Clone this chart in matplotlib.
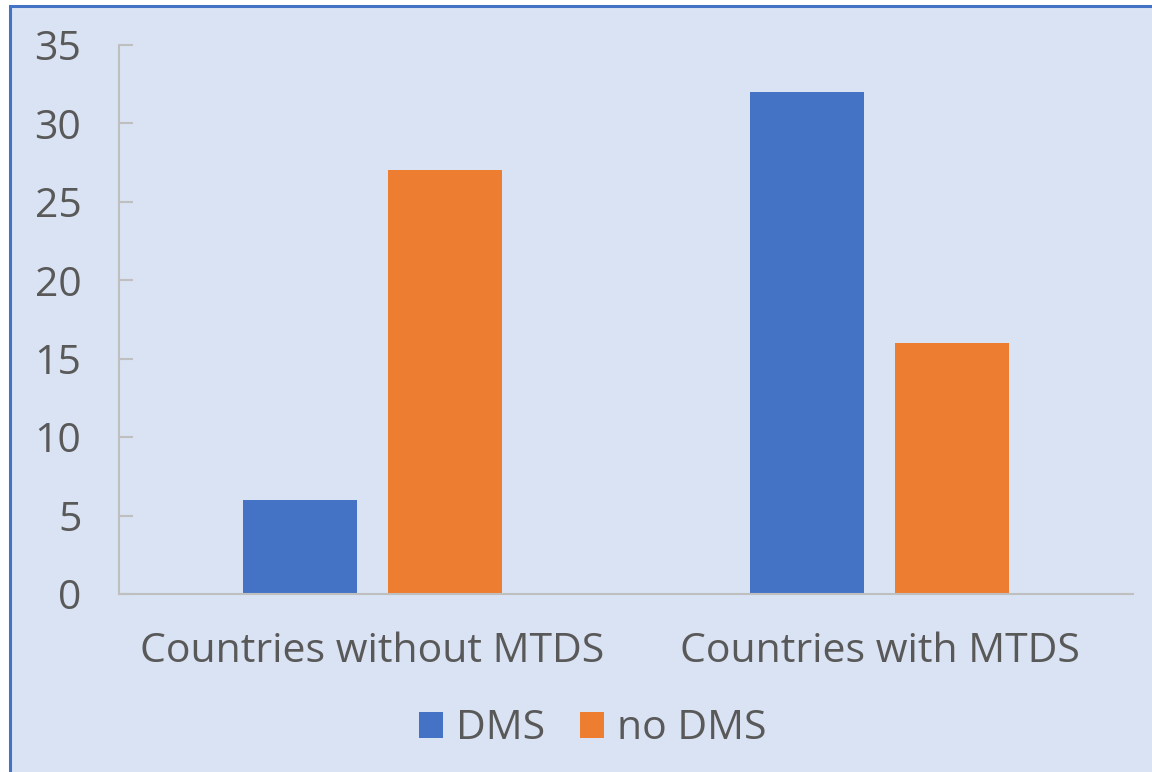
import matplotlib
matplotlib.use("Agg")
import matplotlib.pyplot as plt
from matplotlib.patches import Rectangle
import numpy as np

categories = ["Countries without MTDS", "Countries with MTDS"]
dms = [6, 32]
no_dms = [27, 16]
series_names = ["DMS", "no DMS"]
yticks = [0, 5, 10, 15, 20, 25, 30, 35]

blue = "#4472C4"
orange = "#ED7D31"
bg = "#DAE3F3"
txt = "#595959"
axis_col = "#BFBFBF"

plt.rcParams['font.family'] = ['Open Sans', 'DejaVu Sans']

fig = plt.figure(figsize=(11.52, 7.72), dpi=100, facecolor="white")
# background panel with blue border (clipped at right and bottom)
fig.patches.append(Rectangle((10 / 1152, -0.1), 1.2, (772 - 6) / 772 + 0.1,
                             transform=fig.transFigure, facecolor=bg,
                             edgecolor=blue, linewidth=2.2, zorder=-1))

ax = fig.add_axes([119 / 1152, 1 - 594 / 772, (1133 - 119) / 1152, (594 - 45) / 772])
ax.set_facecolor("none")

x = np.arange(len(categories))
w = 0.225
off = w / 2 + 0.0306
ax.bar(x - off, dms, w, color=blue, label=series_names[0])
ax.bar(x + off, no_dms, w, color=orange, label=series_names[1])

ax.set_xlim(-0.5, 1.5)
ax.set_ylim(0, 35)
ax.set_yticks(yticks)
ax.set_xticks(x)
ax.set_xticklabels(categories)

for s in ["top", "right"]:
    ax.spines[s].set_visible(False)
for s in ["left", "bottom"]:
    ax.spines[s].set_color(axis_col)
    ax.spines[s].set_linewidth(1.5)

ax.tick_params(axis="y", direction="in", length=10, width=1.5, color=axis_col,
               labelsize=29.5, labelcolor=txt, pad=27)
ax.tick_params(axis="x", length=0, labelsize=29.5, labelcolor=txt, pad=27)

leg = fig.legend(loc="center", bbox_to_anchor=(593 / 1152, 1 - 729 / 772), ncol=2,
                 frameon=False, fontsize=29.5, handlelength=0.58, handleheight=0.58,
                 handletextpad=0.32, columnspacing=0.85, labelcolor=txt)

fig.savefig("out.png", dpi=100, facecolor=fig.get_facecolor())
